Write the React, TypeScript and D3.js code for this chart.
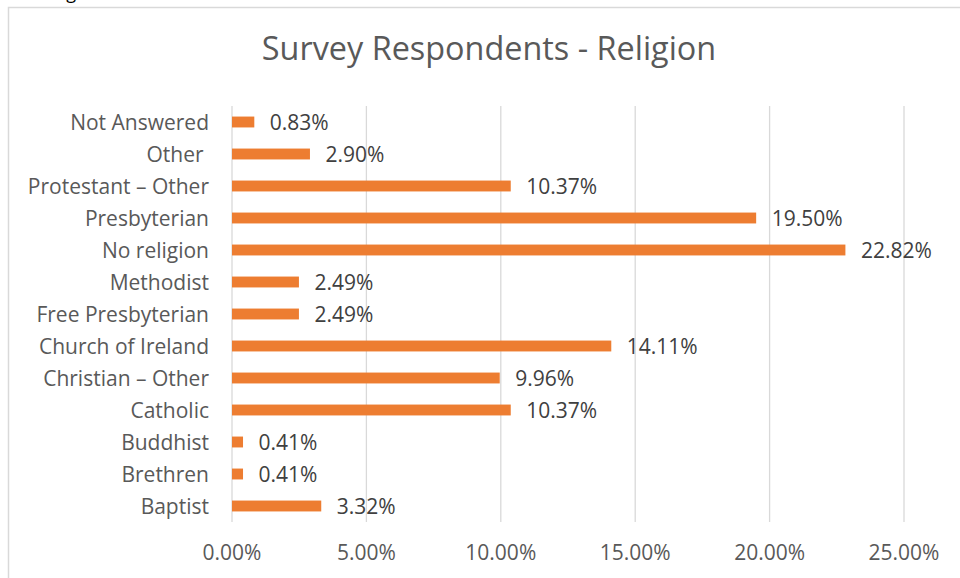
import React from 'react';
import * as d3 from 'd3';

const categories = [
  'Not Answered',
  'Other ',
  'Protestant – Other',
  'Presbyterian',
  'No religion',
  'Methodist',
  'Free Presbyterian',
  'Church of Ireland',
  'Christian – Other',
  'Catholic',
  'Buddhist',
  'Brethren',
  'Baptist',
];
const values = [0.83, 2.9, 10.37, 19.5, 22.82, 2.49, 2.49, 14.11, 9.96, 10.37, 0.41, 0.41, 3.32];
const ticks = [0, 5, 10, 15, 20, 25];

const W = 960;
const H = 578;
const FONT = '"Open Sans", Lato, sans-serif';

const App: React.FC = () => {
  const x = d3.scaleLinear().domain([0, 25]).range([232, 904]);
  const y = d3.scaleBand().domain(categories).range([106, 522]).paddingInner(0.66).paddingOuter(0.33);
  const bw = y.bandwidth();

  return (
    <svg width={W} height={H} style={{ position: 'absolute', left: 0, top: 0, background: '#fff' }}>
      {/* cut-off text above the chart */}
      <text x={14} y={-1} fontFamily={FONT} fontSize={18} fill="#000">Scoring</text>

      {/* chart border */}
      <rect x={8.5} y={7.5} width={W + 10} height={H + 10} fill="#fff" stroke="#d9d9d9" strokeWidth={1.5} />

      <text x={489} y={60} textAnchor="middle" fontFamily={FONT} fontSize={32.4} fill="#595959">
        Survey Respondents - Religion
      </text>

      {/* gridlines */}
      {ticks.map(t => (
        <line key={t} x1={x(t)} x2={x(t)} y1={106} y2={522} stroke="#d9d9d9" strokeWidth={1.3} />
      ))}

      {/* bars */}
      {categories.map((c, i) => (
        <rect key={c} x={x(0)} y={y(c)} width={x(values[i]) - x(0)} height={bw} fill="#ED7D31" />
      ))}

      {/* category labels */}
      {categories.map(c => (
        <text key={c} x={209} y={(y(c) || 0) + bw / 2 + 7.5} textAnchor="end" fontFamily={FONT} fontSize={21} fill="#595959" xmlSpace="preserve">
          {c}
        </text>
      ))}

      {/* value labels */}
      {categories.map((c, i) => (
        <text key={c} x={x(values[i]) + 15.5} y={(y(c) || 0) + bw / 2 + 8} fontFamily={FONT} fontSize={21} fill="#404040">
          {values[i].toFixed(2)}%
        </text>
      ))}

      {/* x tick labels */}
      {ticks.map(t => (
        <text key={t} x={x(t)} y={560} textAnchor="middle" fontFamily={FONT} fontSize={21} fill="#595959">
          {t.toFixed(2)}%
        </text>
      ))}
    </svg>
  );
};

export default App;
